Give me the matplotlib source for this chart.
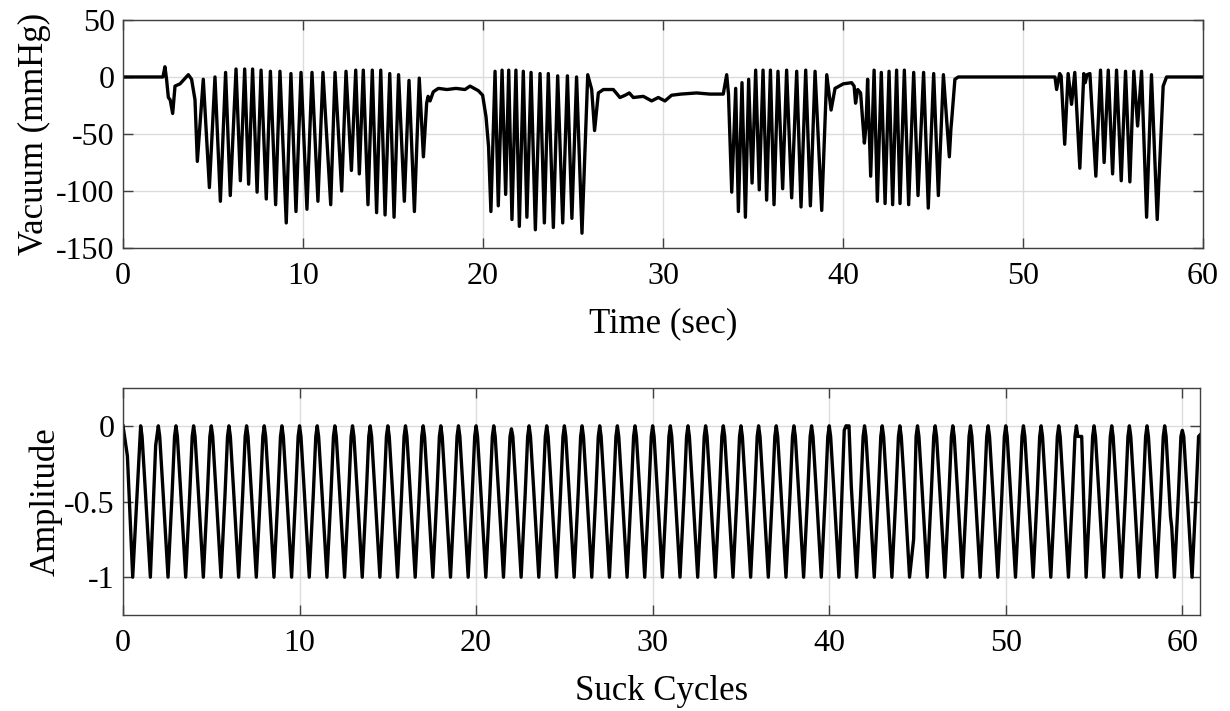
import numpy as np
import matplotlib
matplotlib.use("Agg")
import matplotlib.pyplot as plt

# ---------------- data: top panel (vacuum vs time) ----------------
# vertices (time in s, vacuum in mmHg)
onset_t = [0, 2.22, 2.33, 2.42, 2.52, 2.62, 2.76, 2.89, 3.17, 3.63, 3.81, 4.0]
onset_v = [0, 0, 9, -2, -18, -20, -32, -8, -6, 2, -2, -20]

burst1_t = [4.13, 4.46, 4.80, 5.11, 5.41, 5.70, 5.96, 6.28, 6.52, 6.76, 6.98, 7.20,
            7.45, 7.67, 7.96, 8.19, 8.48, 8.72, 9.07, 9.33, 9.61, 9.89, 10.22, 10.50,
            10.83, 11.11, 11.54, 11.78, 12.15, 12.39, 12.69, 12.93, 13.13, 13.35,
            13.61, 13.85, 14.09, 14.32, 14.56, 14.82, 15.06, 15.31, 15.63, 15.89,
            16.19, 16.46, 16.69]
burst1_v = [-74, -2, -97, 0, -109, 4, -104, 7, -91, 7, -94, 7,
            -101, 6, -107, 5, -112, 5, -128, 3, -118, 4, -116, 4,
            -109, 4, -112, 4, -100, 5, -82, 6, -85, 6,
            -112, 6, -119, 6, -121, 3, -123, 2, -109, -3,
            -118, -1, -70]

pause1_t = [16.87, 16.95, 17.06, 17.24, 17.52, 18.0, 18.5, 19.0, 19.28, 19.74, 19.98, 20.17, 20.31]
pause1_v = [-23, -17, -21, -13, -10, -11, -10, -11, -8, -12, -16, -35, -61]

burst2_t = [20.44, 20.67, 20.85, 21.06, 21.26, 21.43, 21.61, 21.83, 22.02, 22.24,
            22.44, 22.67, 22.91, 23.17, 23.41, 23.63, 23.91, 24.15, 24.43, 24.69,
            24.94, 25.20, 25.50, 25.82, 26.04, 26.20]
burst2_v = [-118, 5, -113, 6, -103, 6, -125, 6, -131, 5,
            -123, 4, -134, 3, -128, 3, -132, 1, -128, 1,
            -124, 0, -137, 2, -11, -47]

pause2_t = [26.41, 26.69, 27.24, 27.61, 27.9, 28.13, 28.35, 28.91, 29.37, 29.74,
            30.11, 30.48, 31.0, 31.87, 32.6, 33.35]
pause2_v = [-14, -11, -11, -18, -16, -14, -18, -17, -21, -18,
            -21, -16, -15, -14, -15, -15]

burst3_t = [33.54, 33.64, 33.82, 34.04, 34.19, 34.39, 34.58, 34.76, 34.95, 35.15,
            35.35, 35.56, 35.76, 35.97, 36.17, 36.39, 36.65, 36.87, 37.15, 37.43,
            37.67, 37.93, 38.19, 38.45, 38.82, 39.10, 39.34]
burst3_v = [2, -15, -101, -10, -118, -5, -123, -2, -93, 6,
            -99, 6, -108, 6, -112, 5, -98, 6, -106, 5,
            -114, 6, -113, 5, -117, 2, -29]

pause3_t = [39.56, 40.02, 40.48, 40.62, 40.70, 40.82, 40.98, 41.19, 41.28]
pause3_v = [-10, -6, -5, -8, -23, -11, -14, -58, -43]

burst4_t = [41.37, 41.54, 41.73, 41.91, 42.13, 42.34, 42.56, 42.76, 42.98, 43.17,
            43.41, 43.65, 43.93, 44.17, 44.48, 44.74, 45.04, 45.30, 45.58, 45.91,
            46.0, 46.04, 46.22, 46.41]
burst4_v = [-2, -87, 6, -109, 4, -111, 5, -112, 6, -111,
            6, -112, 4, -104, 4, -115, 3, -104, 2, -70,
            -45, -38, -2, 0]

burst5_t = [51.78, 51.87, 52.04, 52.12, 52.32, 52.51, 52.70, 52.88, 53.16, 53.38,
            53.46, 53.56, 53.72, 54.05, 54.31, 54.51, 54.74, 54.98, 55.20, 55.46,
            55.70, 55.94, 56.16, 56.37, 56.59, 56.87, 57.14, 57.46, 57.79, 57.98, 60.0]
burst5_v = [0, -11, 3, 1, -59, 3, -24, 4, -80, 3,
            -5, 2, 3, -87, 6, -75, 6, -85, 6, -91,
            5, -92, 5, -43, 5, -123, 2, -125, -8, 0, 0]

time_s = np.array(onset_t + burst1_t + pause1_t + burst2_t + pause2_t +
                  burst3_t + pause3_t + burst4_t + burst5_t)
vacuum = np.array(onset_v + burst1_v + pause1_v + burst2_v + pause2_v +
                  burst3_v + pause3_v + burst4_v + burst5_v)

# ---------------- data: bottom panel (normalised suck cycles) ----------------
n_cycles = 61
peak_amp = [0.0] * (n_cycles + 1)      # amplitude at each cycle boundary
peak_amp[22] = -0.02
peak_amp[60] = -0.03
peak_amp[61] = -0.06
trough_amp = [-1.0] * n_cycles         # each cycle normalised to -1
trough_phase = 0.55                    # position of minimum within a cycle
# typical cycle outline (phase within cycle, amplitude)
shape_phase = [0.08, 0.25, 0.78, 0.92]
shape_amp = [-0.07, -0.40, -0.45, -0.07]
# extra shape points (x, amplitude)
kink_x = [0.25, 1.85, 21.4, 40.85, 40.95, 41.05, 41.12, 44.21, 44.78, 54.3, 59.33, 59.4]
kink_v = [-0.20, -0.13, -0.69, -0.03, 0.0, -0.01, 0.0, -0.31, -0.75, -0.07, -0.60, -0.67]

cyc_x = list(range(n_cycles + 1)) + [k + trough_phase for k in range(n_cycles)] + kink_x
cyc_v = peak_amp + trough_amp + kink_v
for k in range(1, n_cycles):
    for ph, a in zip(shape_phase, shape_amp):
        xx = k + ph
        if all(abs(xx - kx) > 0.12 for kx in kink_x):
            cyc_x.append(xx)
            cyc_v.append(a)
order = np.argsort(cyc_x)
cyc_x = np.array(cyc_x)[order]
cyc_v = np.array(cyc_v)[order]

# ---------------- plotting ----------------
plt.rcParams['font.family'] = ['Liberation Serif', 'DejaVu Serif']
plt.rcParams['axes.unicode_minus'] = False
fs_tick = 23
fs_lab = 25
spine_col = '#404040'
grid_col = '#dcdcdc'

fig = plt.figure(figsize=(12.3, 7.11), dpi=100)
ax1 = fig.add_axes([0.1, 0.6512, 0.878, 0.3207])
ax2 = fig.add_axes([0.1, 0.135, 0.8756, 0.3193])

for ax in (ax1, ax2):
    ax.grid(True, color=grid_col, linewidth=1.0)
    ax.set_axisbelow(True)
    for s in ax.spines.values():
        s.set_color(spine_col)
        s.set_linewidth(1.0)
    ax.tick_params(direction='in', length=7, width=1.0, color=spine_col,
                   top=True, right=True, labelsize=fs_tick, labelcolor='black')
    ax.tick_params(axis='x', pad=10)
    ax.tick_params(axis='y', pad=6)

ax1.plot(time_s, vacuum, color='black', linewidth=2.4, solid_joinstyle='round')
ax1.set_xlim(0, 60)
ax1.set_ylim(-150, 50)
ax1.set_xticks(np.arange(0, 61, 10))
ax1.set_yticks(np.arange(-150, 51, 50))
ax1.set_xlabel('Time (sec)', fontsize=fs_lab, labelpad=12)
ax1.set_ylabel('Vacuum (mmHg)', fontsize=fs_lab, labelpad=4)

ax2.plot(cyc_x, cyc_v, color='black', linewidth=2.4, solid_joinstyle='round')
ax2.set_xlim(0, 61)
ax2.set_ylim(-1.25, 0.25)
ax2.set_xticks(np.arange(0, 61, 10))
ax2.set_yticks([-1, -0.5, 0])
ax2.set_yticklabels(['-1', '-0.5', '0'])
ax2.set_xlabel('Suck Cycles', fontsize=fs_lab, labelpad=12)
ax2.set_ylabel('Amplitude', fontsize=fs_lab, labelpad=1)

fig.savefig('out.png', dpi=100)
